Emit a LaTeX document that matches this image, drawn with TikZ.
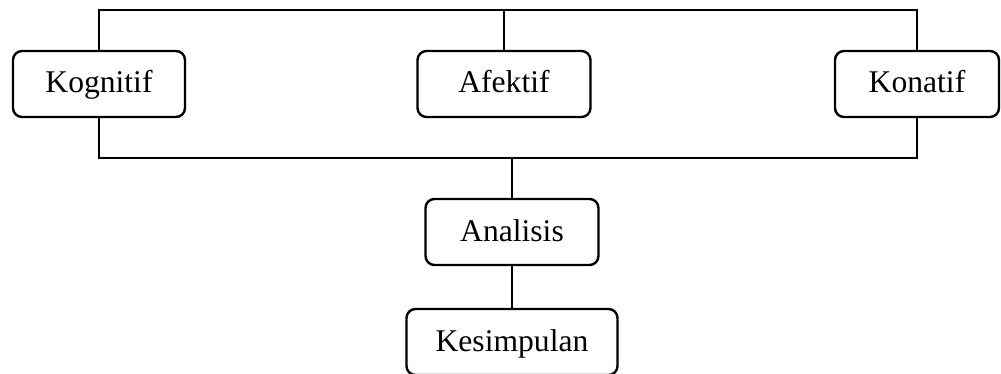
\documentclass[tikz,border=0pt]{standalone}
\usepackage{fontspec}
\setmainfont{Liberation Serif}
\tikzset{kotak/.style={draw, rounded corners=4.5pt, line width=1.2pt, inner sep=0pt,
  minimum height=33pt, text height=12pt, text depth=3pt, font=\fontsize{15.8}{19}\selectfont}}
\begin{document}
\begin{tikzpicture}[x=0.5pt, y=-0.5pt, line width=1.2pt]
\useasboundingbox (0,0) rectangle (1001,374);
\node[kotak, minimum width=86pt] (kog) at (99,84) {Kognitif};
\node[kotak, minimum width=86.5pt] (afe) at (504,84) {Afektif};
\node[kotak, minimum width=82pt] (kon) at (917,84) {Konatif};
\node[kotak, minimum width=86.5pt] (ana) at (512,232) {Analisis};
\node[kotak, minimum width=105.5pt] (kes) at (512,342) {Kesimpulan};
\coordinate (top) at (504,10);
\coordinate (bot) at (512,158);
\draw (kog.north) |- (top) -| (kon.north);
\draw (afe.north) -- (top);
\draw (kog.south) |- (bot) -| (kon.south);
\draw (bot) -- (ana.north);
\draw (ana.south) -- (kes.north);
\end{tikzpicture}
\end{document}
